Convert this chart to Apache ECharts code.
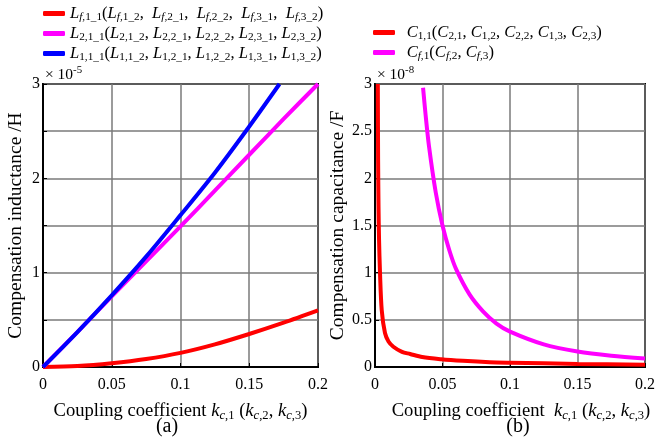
<!DOCTYPE html>
<html>
<head>
<meta charset="utf-8">
<script src="https://cdn.jsdelivr.net/npm/echarts@6/dist/echarts.min.js"></script>
<style>
  html, body { margin: 0; padding: 0; background: #fff; }
  #chart { width: 659px; height: 441px; }
</style>
</head>
<body>
<div id="chart"></div>
<script>
// (a) compensation inductance, units of 1e-5 H
const kInd = [0, 0.025, 0.05, 0.075, 0.1, 0.125, 0.15, 0.175, 0.2]
const lf = [0, 0.01, 0.04, 0.085, 0.15, 0.24, 0.35, 0.47, 0.6]
const l2 = [0, 0.37, 0.75, 1.12, 1.49, 1.87, 2.25, 2.63, 3.0]
const kL1 = [0, 0.025, 0.05, 0.075, 0.1, 0.125, 0.15, 0.172]
const l1 = [0, 0.37, 0.76, 1.17, 1.61, 2.06, 2.55, 3.0]

// (b) compensation capacitance, units of 1e-8 F
const kC1 = [0.0021, 0.0023, 0.0026, 0.003, 0.0037, 0.005, 0.0074, 0.01, 0.0136, 0.02, 0.026, 0.035, 0.049, 0.065, 0.085, 0.1, 0.15, 0.2]
const c1 = [3.0, 2.2, 1.7, 1.35, 1.0, 0.6, 0.36, 0.27, 0.215, 0.16, 0.138, 0.105, 0.082, 0.065, 0.05, 0.045, 0.033, 0.025]
const kCf = [0.0356, 0.0375, 0.04, 0.045, 0.05, 0.055, 0.06, 0.07, 0.08, 0.09, 0.1, 0.125, 0.15, 0.175, 0.2]
const cf = [2.96, 2.67, 2.34, 1.85, 1.5, 1.24, 1.04, 0.77, 0.59, 0.46, 0.375, 0.24, 0.165, 0.12, 0.09]

const xTicks = [0, 0.05, 0.1, 0.15, 0.2]

const FONT = 'Liberation Serif'
const pairs = (xs, ys) => xs.map((x, i) => [x, ys[i]])

// rich styles for italic symbols with subscripts
const makeRich = (size) => ({
  n: { fontFamily: FONT, fontSize: size, color: '#000' },
  i: { fontFamily: FONT, fontSize: size, fontStyle: 'italic', color: '#000' },
  s: { fontFamily: FONT, fontSize: size * 0.68, color: '#000', padding: [8, 0, 0, 0] },
  si: { fontFamily: FONT, fontSize: size * 0.68, fontStyle: 'italic', color: '#000', padding: [8, 0, 0, 0] },
  sup: { fontFamily: FONT, fontSize: size * 0.7, color: '#000', padding: [0, 0, 8, 0] }
})
const richLegend = makeRich(16.6)
const richAxis = makeRich(18.6)
const richSmall = makeRich(15.5)

// sym('L', 'f', ',1_1') -> L with subscript "f,1_1" (f italic)
const sym = (base, itPart, rest) => {
  let out = '{i|' + base + '}'
  if (itPart) out += '{si|' + itPart + '}'
  if (rest) out += '{s|' + rest + '}'
  return out
}

const legendText = {
  Lf: sym('L', 'f', ',1_1') + '{n|(}' + sym('L', 'f', ',1_2') + '{n|,  }' + sym('L', 'f', ',2_1') + '{n|,  }' +
      sym('L', 'f', ',2_2') + '{n|,  }' + sym('L', 'f', ',3_1') + '{n|,  }' + sym('L', 'f', ',3_2') + '{n|)}',
  L2: sym('L', '', '2,1_1') + '{n|(}' + sym('L', '', '2,1_2') + '{n|, }' + sym('L', '', '2,2_1') + '{n|, }' +
      sym('L', '', '2,2_2') + '{n|, }' + sym('L', '', '2,3_1') + '{n|, }' + sym('L', '', '2,3_2') + '{n|)}',
  L1: sym('L', '', '1,1_1') + '{n|(}' + sym('L', '', '1,1_2') + '{n|, }' + sym('L', '', '1,2_1') + '{n|, }' +
      sym('L', '', '1,2_2') + '{n|, }' + sym('L', '', '1,3_1') + '{n|, }' + sym('L', '', '1,3_2') + '{n|)}',
  C1: sym('C', '', '1,1') + '{n|(}' + sym('C', '', '2,1') + '{n|, }' + sym('C', '', '1,2') + '{n|, }' +
      sym('C', '', '2,2') + '{n|, }' + sym('C', '', '1,3') + '{n|, }' + sym('C', '', '2,3') + '{n|)}',
  Cf: sym('C', 'f', ',1') + '{n|(}' + sym('C', 'f', ',2') + '{n|, }' + sym('C', 'f', ',3') + '{n|)}'
}

const xName = (gap) => '{n|Coupling coefficient' + gap + '}' + sym('k', 'c', ',1') + '{n| (}' +
  sym('k', 'c', ',2') + '{n|, }' + sym('k', 'c', ',3') + '{n|)}'

const chart = echarts.init(document.getElementById('chart'))

const xAxisBase = (gridIndex, name, pad) => ({
  type: 'value',
  gridIndex,
  min: 0,
  max: 0.2,
  interval: 0.05,
  name,
  nameLocation: 'middle',
  nameGap: 34,
  nameTextStyle: { rich: richAxis, padding: pad },
  axisLine: { show: true, lineStyle: { color: '#000', width: 2 } },
  axisTick: { show: true, inside: true, length: 4, lineStyle: { color: '#000' } },
  axisLabel: {
    fontFamily: FONT, fontSize: 16, color: '#000', margin: 10,
    formatter: v => xTicks.includes(+v.toFixed(3)) ? String(+v.toFixed(3)) : ''
  },
  splitLine: { show: true, lineStyle: { color: '#7a7a7a', width: 1.5 } }
})

const yAxisBase = (gridIndex, name, gap, fmt) => ({
  type: 'value',
  gridIndex,
  min: 0,
  max: 3,
  interval: 0.5,
  name,
  nameLocation: 'middle',
  nameGap: gap,
  nameTextStyle: { fontFamily: FONT, fontSize: 19.5, color: '#000' },
  axisLine: { show: true, lineStyle: { color: '#000', width: 2 } },
  axisTick: { show: true, inside: true, length: 4, lineStyle: { color: '#000' } },
  axisLabel: { fontFamily: FONT, fontSize: 16, color: '#000', margin: 3, formatter: fmt },
  splitLine: { show: true, lineStyle: { color: '#7a7a7a', width: 1.5 } }
})

const lineSeries = (name, idx, color, data) => ({
  name,
  type: 'line',
  xAxisIndex: idx,
  yAxisIndex: idx,
  data,
  showSymbol: false,
  smooth: 0.3,
  lineStyle: { color, width: 4 },
  itemStyle: { color },
  z: name === 'L1' ? 3 : 2
})

const option = {
  animation: false,
  backgroundColor: '#fff',
  grid: [
    { left: 43, right: 341, top: 84, bottom: 74, show: true, borderColor: '#000', borderWidth: 2 },
    { left: 375, right: 14, top: 84, bottom: 74, show: true, borderColor: '#000', borderWidth: 2 }
  ],
  legend: [
    {
      data: ['Lf', 'L2', 'L1'],
      orient: 'vertical',
      left: 38,
      top: 0,
      itemGap: 2,
      itemWidth: 22,
      itemHeight: 5,
      icon: 'roundRect',
      formatter: name => legendText[name],
      textStyle: { rich: richLegend }
    },
    {
      data: ['C1', 'Cf'],
      orient: 'vertical',
      left: 368,
      top: 19,
      itemGap: 2,
      itemWidth: 22,
      itemHeight: 5,
      icon: 'roundRect',
      formatter: name => '  ' + legendText[name],
      textStyle: { rich: richLegend }
    }
  ],
  xAxis: [
    xAxisBase(0, xName(' '), [0, 0, 0, 0]),
    xAxisBase(1, xName('  '), [0, 0, 0, 22])
  ],
  yAxis: [
    yAxisBase(0, 'Compensation inductance /H', 17, v => (v % 1 === 0 ? String(v) : '')),
    yAxisBase(1, 'Compensation capacitance /F', 27, v => String(v))
  ],
  series: [
    lineSeries('Lf', 0, '#ff0000', pairs(kInd, lf)),
    lineSeries('L2', 0, '#ff00ff', pairs(kInd, l2)),
    lineSeries('L1', 0, '#0000ff', pairs(kL1, l1)),
    lineSeries('C1', 1, '#ff0000', pairs(kC1, c1)),
    lineSeries('Cf', 1, '#ff00ff', pairs(kCf, cf))
  ],
  graphic: [
    {
      type: 'text', left: 45, top: 65,
      style: { text: '{n|× 10}{sup|-5}', rich: richSmall, fill: '#000' }
    },
    {
      type: 'text', left: 377, top: 65,
      style: { text: '{n|× 10}{sup|-8}', rich: richSmall, fill: '#000' }
    },
    {
      type: 'text', x: 167, y: 427,
      style: { text: '(a)', fontFamily: FONT, fontSize: 20, fill: '#000', align: 'center', verticalAlign: 'middle' }
    },
    {
      type: 'text', x: 518, y: 427,
      style: { text: '(b)', fontFamily: FONT, fontSize: 20, fill: '#000', align: 'center', verticalAlign: 'middle' }
    }
  ]
}

chart.setOption(option)
</script>
</body>
</html>
